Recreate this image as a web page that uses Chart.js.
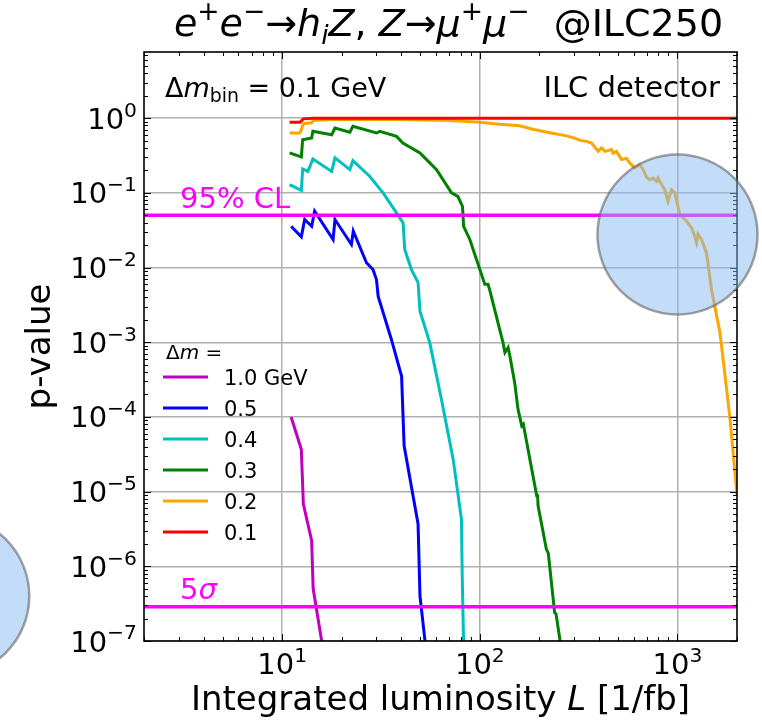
<!DOCTYPE html>
<html>
<head>
<meta charset="utf-8">
<script src="https://cdn.jsdelivr.net/npm/chart.js@4.4.1/dist/chart.umd.min.js"></script>
<style>
  html, body { margin: 0; padding: 0; background: #fff; }
  #wrap { width: 762px; height: 722px; }
</style>
</head>
<body>
<div id="wrap"><canvas id="pvalChart" width="762" height="722"></canvas></div>
<script>
// p-value vs integrated luminosity, e+e- -> h_i Z, Z -> mu mu @ ILC250

// --- values (L in 1/fb, p-value) ---
const lumi_m10 = [11.1, 12.5, 12.8, 14.1, 14.35, 15.8, 16.0];
const pval_m10 = [1e-4, 3.7e-5, 6.8e-6, 2.2e-6, 5e-7, 1.05e-7, 8e-8];

const lumi_m05 = [11.1, 12.5, 13.0, 14.1, 14.6, 18.1, 18.5, 22.4, 22.9, 26.7, 28.8, 30.0, 30.6, 35.7, 40.2, 40.6, 41.4, 48.7, 49.8, 52.7, 53.3];
const pval_m05 = [0.0357, 0.0258, 0.044, 0.0357, 0.057, 0.0238, 0.044, 0.0204, 0.0307, 0.0116, 9.4e-3, 6.9e-3, 4.1e-3, 1.09e-3, 3.5e-4, 1.7e-4, 4.1e-5, 3.7e-6, 4e-7, 1.05e-7, 8e-8];

const lumi_m04 = [10.9, 12.5, 12.7, 13.5, 14.3, 17.8, 18.5, 22.0, 22.8, 27.7, 32.4, 37.9, 40.9, 41.7, 45.1, 48.7, 49.8, 55.8, 64, 73.3, 80.7, 81.5, 82.7, 83.0];
const pval_m04 = [0.129, 0.108, 0.209, 0.194, 0.285, 0.194, 0.294, 0.205, 0.27, 0.167, 0.1, 0.054, 0.0397, 0.0175, 9.4e-3, 6.3e-3, 2.6e-3, 9.9e-4, 1.7e-4, 2.7e-5, 4.3e-6, 6.8e-7, 1.05e-7, 8e-8];

const lumi_m03 = [10.9, 12.5, 12.7, 14.1, 14.3, 17.8, 18.5, 22.0, 22.8, 30.0, 31.2, 37.9, 40.8, 49.8, 60.4, 71.9, 77.4, 81.7, 82.8, 89, 96.2, 106, 110, 112, 131, 134, 139, 142, 150, 156, 163, 166, 169, 194, 196, 197, 217, 222, 239, 243, 258];
const pval_m03 = [0.343, 0.303, 0.516, 0.544, 0.667, 0.60, 0.74, 0.65, 0.777, 0.634, 0.667, 0.571, 0.466, 0.343, 0.205, 0.1, 0.09, 0.066, 0.0357, 0.0238, 0.0128, 5.96e-3, 5.96e-3, 5.1e-3, 9.9e-4, 7.3e-4, 8.5e-4, 6.5e-4, 2.9e-4, 1.27e-4, 7.6e-5, 8e-5, 6.2e-5, 8.8e-6, 8.8e-6, 6.5e-6, 1.7e-6, 1.5e-6, 2.4e-7, 2.3e-7, 8e-8];

const lumi_m02 = [10.9, 12.3, 12.8, 14.1, 14.4, 17.4, 39, 70.5, 100, 126, 159, 185, 226, 275, 309, 321, 347, 367, 397, 413, 429, 464, 472, 491, 521, 552, 574, 608, 644, 670, 697, 724, 753, 783, 798, 813, 862, 896, 933, 969, 1028, 1111, 1178, 1224, 1248, 1271, 1321, 1402, 1486, 1545, 1638, 1702, 1845, 2000];
const pval_m02 = [0.634, 0.634, 0.845, 0.87, 0.93, 0.96, 0.96, 0.93, 0.88, 0.83, 0.79, 0.71, 0.64, 0.58, 0.53, 0.505, 0.49, 0.466, 0.36, 0.40, 0.36, 0.38, 0.34, 0.36, 0.28, 0.29, 0.25, 0.216, 0.24, 0.205, 0.163, 0.15, 0.158, 0.143, 0.158, 0.143, 0.11, 0.077, 0.11, 0.1, 0.051, 0.042, 0.034, 0.026, 0.0215, 0.028, 0.024, 0.0157, 5.1e-3, 3.0e-3, 1.36e-3, 5.9e-4, 9.3e-5, 9e-6];

const lumi_m01 = [10.9, 12.3, 12.8, 14.4, 2000];
const pval_m01 = [0.88, 0.88, 0.98, 1.0, 1.0];

const seriesLabels = ['1.0 GeV', '0.5', '0.4', '0.3', '0.2', '0.1'];
const seriesColors = ['#bf00bf', '#0000ff', '#00bfbf', '#008000', '#ffa500', '#ff0000'];
const seriesLumi = [lumi_m10, lumi_m05, lumi_m04, lumi_m03, lumi_m02, lumi_m01];
const seriesPval = [pval_m10, pval_m05, pval_m04, pval_m03, pval_m02, pval_m01];

const CL95 = 0.05;
const FIVE_SIGMA = 2.87e-7;

const X_MIN = 2, X_MAX = 2000;
const Y_MIN = 1e-7, Y_MAX = 7.7;
const xTickValues = [10, 100, 1000];
const xTickExp = ['1', '2', '3'];
const yTickValues = [1e-7, 1e-6, 1e-5, 1e-4, 1e-3, 1e-2, 1e-1, 1];
const yTickExp = ['\u22127', '\u22126', '\u22125', '\u22124', '\u22123', '\u22122', '\u22121', '0'];

// light-blue highlight discs sitting on top of the figure (data coords)
const spotL = [1000, 0.207];
const spotP = [0.0277, 4.0e-7];

const FONT = '"DejaVu Sans", sans-serif';

function drawRich(ctx, segs, x, y, size, align, color) {
    ctx.save();
    ctx.fillStyle = color;
    ctx.textBaseline = 'alphabetic';
    ctx.textAlign = 'left';
    const parts = segs.map(s => {
        const fs = (s.sup || s.sub) ? size * 0.7 : size;
        const font = (s.it ? 'italic ' : '') + fs + 'px ' + FONT;
        ctx.font = font;
        const gap = s.gap || 0;
        return { t: s.t, font, w: ctx.measureText(s.t).width + gap * size, gap: gap * size / 2,
                 dy: s.sup ? -0.42 * size : (s.sub ? 0.2 * size : 0) };
    });
    const total = parts.reduce((a, p) => a + p.w, 0);
    let cx = align === 'center' ? x - total / 2 : (align === 'right' ? x - total : x);
    parts.forEach(p => {
        ctx.font = p.font;
        ctx.fillText(p.t, cx + p.gap, y + p.dy);
        cx += p.w;
    });
    ctx.restore();
}

const decorPlugin = {
    id: 'decor',
    afterDraw(chart) {
        const ctx = chart.ctx;
        const a = chart.chartArea;
        const xs = chart.scales.x, ys = chart.scales.y;

        // minor / major ticks pointing inward on all four sides
        ctx.save();
        ctx.strokeStyle = '#000';
        ctx.lineWidth = 1;
        for (let d = -8; d <= 3; d++) {
            for (let k = 1; k <= 9; k++) {
                const v = k * Math.pow(10, d);
                const len = k === 1 ? 7 : 4;
                if (v >= X_MIN && v <= X_MAX) {
                    const px = Math.round(xs.getPixelForValue(v)) + 0.5;
                    ctx.beginPath();
                    ctx.moveTo(px, a.bottom); ctx.lineTo(px, a.bottom - len);
                    ctx.moveTo(px, a.top); ctx.lineTo(px, a.top + len);
                    ctx.stroke();
                }
                if (v >= Y_MIN && v <= Y_MAX) {
                    const py = Math.round(ys.getPixelForValue(v)) + 0.5;
                    ctx.beginPath();
                    ctx.moveTo(a.left, py); ctx.lineTo(a.left + len, py);
                    ctx.moveTo(a.right, py); ctx.lineTo(a.right - len, py);
                    ctx.stroke();
                }
            }
        }
        // frame
        ctx.lineWidth = 1.6;
        ctx.strokeRect(a.left, a.top, a.right - a.left, a.bottom - a.top);
        ctx.restore();

        // tick labels
        const tickSize = 29;
        xTickValues.forEach((v, i) => {
            drawRich(ctx, [{ t: '10' }, { t: xTickExp[i], sup: true }], xs.getPixelForValue(v), a.bottom + 33, tickSize, 'center', '#000');
        });
        yTickValues.forEach((v, i) => {
            drawRich(ctx, [{ t: '10' }, { t: yTickExp[i], sup: true }], a.left - 7, ys.getPixelForValue(v) + 10.5, tickSize, 'right', '#000');
        });

        // axis titles and title
        const mid = (a.left + a.right) / 2;
        drawRich(ctx, [{ t: 'Integrated luminosity ' }, { t: 'L', it: true }, { t: ' [1/fb]' }], mid, 710, 34, 'center', '#000');
        ctx.save();
        ctx.translate(50, (a.top + a.bottom) / 2);
        ctx.rotate(-Math.PI / 2);
        drawRich(ctx, [{ t: 'p-value' }], 0, 0, 34, 'center', '#000');
        ctx.restore();
        drawRich(ctx, [
            { t: 'e', it: true }, { t: '+', sup: true }, { t: 'e', it: true }, { t: '\u2212', sup: true },
            { t: '\u2192' }, { t: 'h', it: true }, { t: 'i', it: true, sub: true }, { t: 'Z', it: true },
            { t: ', ' }, { t: 'Z', it: true }, { t: '\u2192' }, { t: '\u03bc', it: true }, { t: '+', sup: true },
            { t: '\u03bc', it: true }, { t: '\u2212', sup: true }, { t: '  @ILC250' }
        ], mid + 8, 36, 38, 'center', '#000');

        // in-plot annotations
        drawRich(ctx, [{ t: '\u0394' }, { t: 'm', it: true }, { t: 'bin', sub: true }, { t: ' = 0.1 GeV' }], 165, 97, 27, 'left', '#000');
        drawRich(ctx, [{ t: 'ILC detector' }], 720, 97, 29, 'right', '#000');
        drawRich(ctx, [{ t: '95% CL' }], 180, ys.getPixelForValue(CL95) - 7, 29, 'left', '#ff00ff');
        drawRich(ctx, [{ t: '5' }, { t: '\u03c3', it: true }], 180, ys.getPixelForValue(FIVE_SIGMA) - 8, 29, 'left', '#ff00ff');

        // legend
        drawRich(ctx, [{ t: '\u0394' }, { t: 'm', it: true }, { t: ' =' }], 166, 359, 20, 'left', '#000');
        ctx.save();
        seriesLabels.forEach((lab, i) => {
            const yy = 377 + i * 31;
            ctx.strokeStyle = seriesColors[i];
            ctx.lineWidth = 3;
            ctx.beginPath();
            ctx.moveTo(163, yy); ctx.lineTo(208, yy);
            ctx.stroke();
            drawRich(ctx, [{ t: lab }], 224, yy + 7.5, 21, 'left', '#000');
        });
        ctx.restore();

        // highlight discs
        ctx.save();
        spotL.forEach((l, i) => {
            const cx = xs.getPixelForValue(l), cy = ys.getPixelForValue(spotP[i]);
            ctx.beginPath();
            ctx.arc(cx, cy, 80, 0, Math.PI * 2);
            ctx.fillStyle = 'rgba(135,185,240,0.5)';
            ctx.fill();
            ctx.lineWidth = 2.5;
            ctx.strokeStyle = 'rgba(100,100,100,0.6)';
            ctx.stroke();
        });
        ctx.restore();
    }
};

const curveSets = seriesLabels.map((lab, i) => ({
    label: lab,
    data: seriesLumi[i].map((l, j) => ({ x: l, y: seriesPval[i][j] })),
    borderColor: seriesColors[i],
    borderWidth: 3,
    pointRadius: 0,
    tension: 0,
    fill: false,
    clip: 0,
    order: 6 - i
}));

const limitSets = [CL95, FIVE_SIGMA].map(v => ({
    label: 'limit',
    data: [{ x: X_MIN, y: v }, { x: X_MAX, y: v }],
    borderColor: '#ff00ff',
    borderWidth: 3.5,
    pointRadius: 0,
    fill: false,
    clip: 0,
    order: 0
}));

new Chart(document.getElementById('pvalChart'), {
    type: 'line',
    data: { datasets: limitSets.concat(curveSets) },
    options: {
        responsive: false,
        animation: false,
        devicePixelRatio: 1,
        layout: { padding: { top: 52, right: 25, left: 0, bottom: 0 } },
        plugins: { legend: { display: false }, tooltip: { enabled: false }, title: { display: false } },
        scales: {
            x: {
                type: 'logarithmic',
                min: X_MIN,
                max: X_MAX,
                afterBuildTicks: s => { s.ticks = xTickValues.map(v => ({ value: v })); },
                afterFit: s => { s.height = 81; },
                ticks: { display: false },
                grid: { color: '#b0b0b0', lineWidth: 1.5, drawTicks: false },
                border: { display: false }
            },
            y: {
                type: 'logarithmic',
                min: Y_MIN,
                max: Y_MAX,
                afterBuildTicks: s => { s.ticks = yTickValues.map(v => ({ value: v })); },
                afterFit: s => { s.width = 144; },
                ticks: { display: false },
                grid: { color: '#b0b0b0', lineWidth: 1.5, drawTicks: false },
                border: { display: false }
            }
        }
    },
    plugins: [decorPlugin]
});
</script>
</body>
</html>
